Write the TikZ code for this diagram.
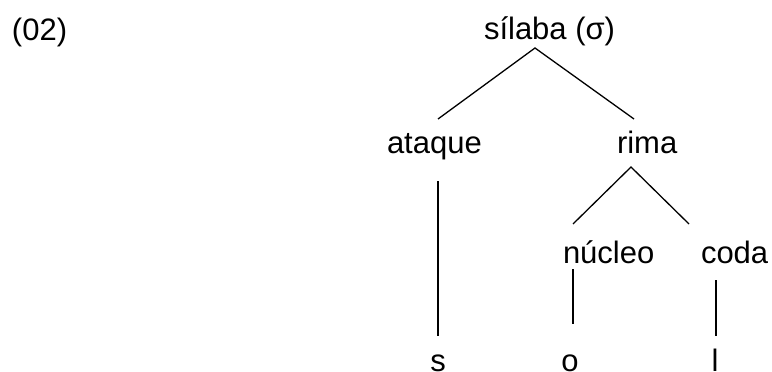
\documentclass[tikz,border=0pt]{standalone}
\usepackage{fontspec}
\setmainfont{Liberation Sans}
\begin{document}
\begin{tikzpicture}[x=1pt,y=-1pt,
  lbl/.style={inner sep=0pt,outer sep=0pt,font=\fontsize{31}{37}\selectfont},
  edge/.style={line width=1.3pt}]
\useasboundingbox (0,0) rectangle (772,372);
% labels
\node[lbl,anchor=base west] (ex) at (12,41) {(02)};
\node[lbl,anchor=base west] (sil) at (484,39) {sílaba (σ)};
\node[lbl,anchor=base west] (ata) at (387,153) {ataque};
\node[lbl,anchor=base west] (rim) at (617,153) {rima};
\node[lbl,anchor=base west] (nuc) at (563,263) {núcleo};
\node[lbl,anchor=base west] (cod) at (701,263) {coda};
\node[lbl,anchor=base] (s) at (438,371) {s};
\node[lbl,anchor=base] (o) at (570,371) {o};
\node[lbl,anchor=base] (l) at (715,371) {l};
% connector end points
\coordinate (sil-b) at (535,48);
\coordinate (ata-t) at (438,119);
\coordinate (rim-t) at (634,119);
\coordinate (ata-b) at (438,181);
\coordinate (s-t) at (438,336);
\coordinate (rim-b) at (631,167);
\coordinate (nuc-t) at (573,224);
\coordinate (cod-t) at (689,224);
\coordinate (nuc-b) at (573,269);
\coordinate (o-t) at (573,324);
\coordinate (cod-b) at (716,280);
\coordinate (l-t) at (716,336);
% connectors
\draw[edge] (ata-t) -- (sil-b) -- (rim-t);
\draw[edge] (ata-b) -- (s-t);
\draw[edge] (nuc-t) -- (rim-b) -- (cod-t);
\draw[edge] (nuc-b) -- (o-t);
\draw[edge] (cod-b) -- (l-t);
\end{tikzpicture}
\end{document}
